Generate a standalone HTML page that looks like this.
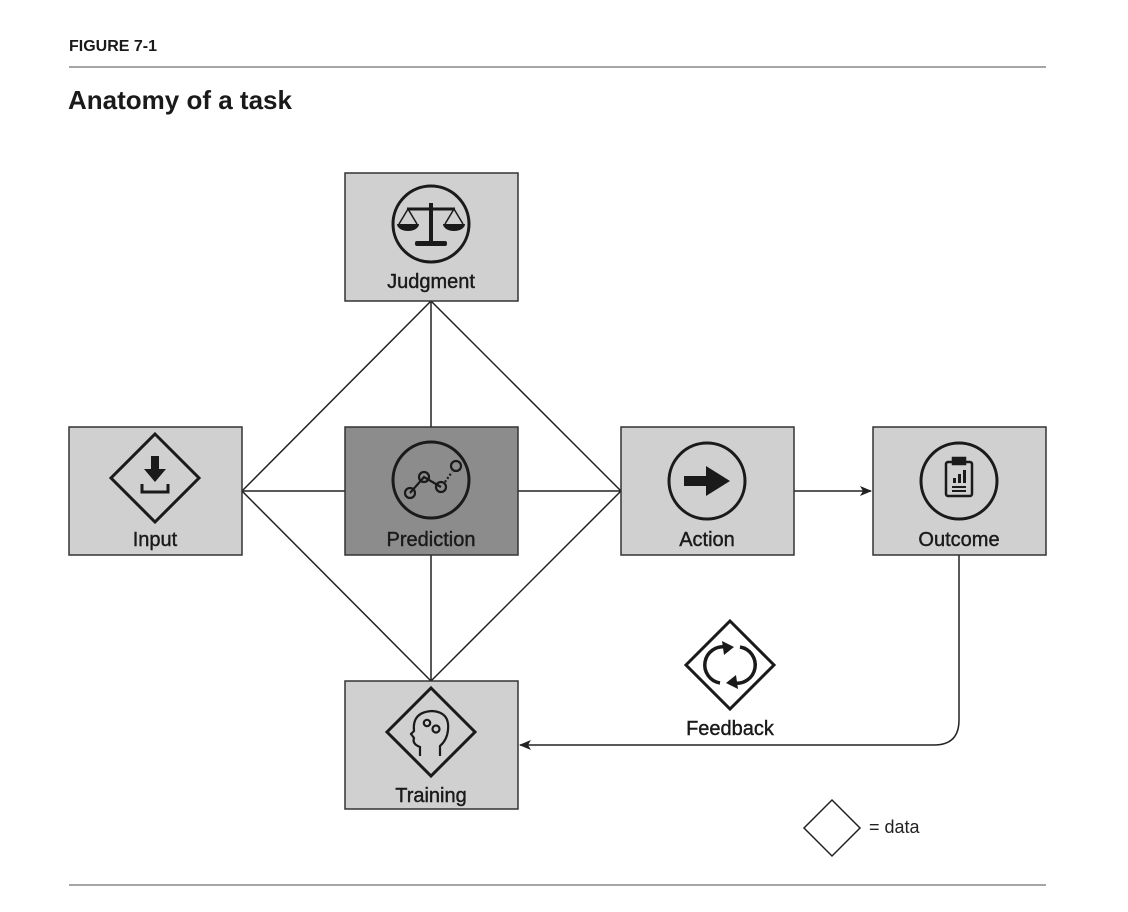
<!DOCTYPE html>
<html><head><meta charset="utf-8"><style>
body{margin:0;background:#fff;}
svg{display:block;font-family:"Liberation Sans",Arial,sans-serif;}
</style></head><body>
<svg width="1128" height="912" viewBox="0 0 1128 912" xmlns="http://www.w3.org/2000/svg">
<defs><marker id="ar" markerWidth="12" markerHeight="10" refX="11" refY="5" orient="auto" markerUnits="userSpaceOnUse"><path d="M0,0 L12,5 L0,10 L3,5 Z" fill="#222"/></marker></defs>
<text x="69" y="51" font-size="16" font-weight="bold" fill="#1a1a1a">FIGURE 7-1</text>
<line x1="69" y1="67" x2="1046" y2="67" stroke="#888" stroke-width="1.5"/>
<text x="68" y="109" font-size="26" font-weight="bold" fill="#1a1a1a">Anatomy of a task</text>
<line x1="69" y1="885" x2="1046" y2="885" stroke="#888" stroke-width="1.5"/>
<g stroke="#222" stroke-width="1.5" fill="none">
<line x1="242" y1="491" x2="431" y2="301"/><line x1="431" y1="301" x2="621" y2="491"/>
<line x1="242" y1="491" x2="431" y2="681"/><line x1="431" y1="681" x2="621" y2="491"/>
<line x1="431" y1="301" x2="431" y2="681"/><line x1="242" y1="491" x2="621" y2="491"/>
<line x1="794" y1="491" x2="871" y2="491" marker-end="url(#ar)"/>
<path d="M959,555 V720 Q959,745 934,745 H520" marker-end="url(#ar)"/>
</g>
<g stroke="#333" stroke-width="1.5">
<rect x="345" y="173" width="173" height="128" fill="#d0d0d0"/>
<rect x="69" y="427" width="173" height="128" fill="#d0d0d0"/>
<rect x="345" y="427" width="173" height="128" fill="#8c8c8c"/>
<rect x="621" y="427" width="173" height="128" fill="#d0d0d0"/>
<rect x="873" y="427" width="173" height="128" fill="#d0d0d0"/>
<rect x="345" y="681" width="173" height="128" fill="#d0d0d0"/>
</g>
<g font-size="20" fill="#1a1a1a" text-anchor="middle" stroke="#1a1a1a" stroke-width="0.4">
<text x="431" y="288">Judgment</text>
<text x="155" y="546">Input</text>
<text x="431" y="546">Prediction</text>
<text x="707" y="546">Action</text>
<text x="959" y="546">Outcome</text>
<text x="431" y="802">Training</text>
<text x="730" y="735">Feedback</text>
</g>
<text x="869" y="833" font-size="18" fill="#222">= data</text>
<g stroke="#1a1a1a" stroke-width="3" fill="none">
<circle cx="431" cy="224" r="38"/>
<circle cx="431" cy="480" r="38"/>
<circle cx="707" cy="481" r="38"/>
<circle cx="959" cy="481" r="38"/>
<path d="M155,434 L199,478 L155,522 L111,478 Z"/>
<path d="M431,688 L475,732 L431,776 L387,732 Z"/>
<path d="M730,621 L774,665 L730,709 L686,665 Z"/>
</g>
<path d="M832,800 L860,828 L832,856 L804,828 Z" fill="#fff" stroke="#222" stroke-width="1.5"/>
<g fill="#1a1a1a" stroke="#1a1a1a">
<rect x="429" y="203" width="4" height="40" stroke="none"/>
<rect x="415" y="241" width="32" height="5" rx="2" stroke="none"/>
<line x1="407" y1="209" x2="455" y2="209" stroke-width="3"/>
<path d="M397,224 A11,7 0 0 0 419,224 Z" stroke="none"/>
<path d="M443,224 A11,7 0 0 0 465,224 Z" stroke="none"/>
<path d="M408,209 L399,224 M408,209 L417,224 M454,209 L445,224 M454,209 L463,224" stroke-width="1.5" fill="none"/>
</g>
<g stroke="#1a1a1a" stroke-width="2.2" fill="none">
<polyline points="410,493 424,477 441,487"/>
<line x1="445" y1="482" x2="452" y2="472" stroke-dasharray="2,2"/>
<circle cx="410" cy="493" r="5"/><circle cx="424" cy="477" r="5"/><circle cx="441" cy="487" r="5"/><circle cx="456" cy="466" r="5"/>
</g>
<path d="M684,476 H706 V466 L730,481 L706,496 V486 H684 Z" fill="#1a1a1a"/>
<g stroke="#1a1a1a" stroke-width="2.5" fill="none">
<rect x="946" y="462" width="26" height="34" rx="2"/>
<rect x="953" y="458" width="12" height="6" fill="#1a1a1a"/>
</g>
<g fill="#1a1a1a"><rect x="953" y="478" width="3" height="5"/><rect x="958" y="474" width="3" height="9"/><rect x="963" y="470" width="3" height="13"/><rect x="952" y="486" width="14" height="2"/><rect x="952" y="490" width="14" height="2"/></g>
<g fill="#1a1a1a"><rect x="151" y="456" width="8" height="14"/><path d="M144,469 H166 L155,482 Z"/></g>
<path d="M142,484 V492 H168 V484" stroke="#1a1a1a" stroke-width="3" fill="none"/>
<g stroke="#1a1a1a" stroke-width="2.2" fill="none">
<path d="M420,756 V747 Q412,744 414,738 L411,734 L414,731 Q412,712 432,711 Q450,712 448,730 Q447,740 440,746 V756"/>
<circle cx="427" cy="723" r="3.2"/><circle cx="436" cy="729" r="3.5"/>
</g>
<g stroke="#1a1a1a" stroke-width="3.5" fill="none">
<path d="M720,683 A18,18 0 0 1 726,647"/>
<path d="M740,647 A18,18 0 0 1 734,683"/>
</g>
<path d="M722,641 L734,647 L724,655 Z M738,689 L726,683 L736,675 Z" fill="#1a1a1a"/>
</svg>
</body></html>
